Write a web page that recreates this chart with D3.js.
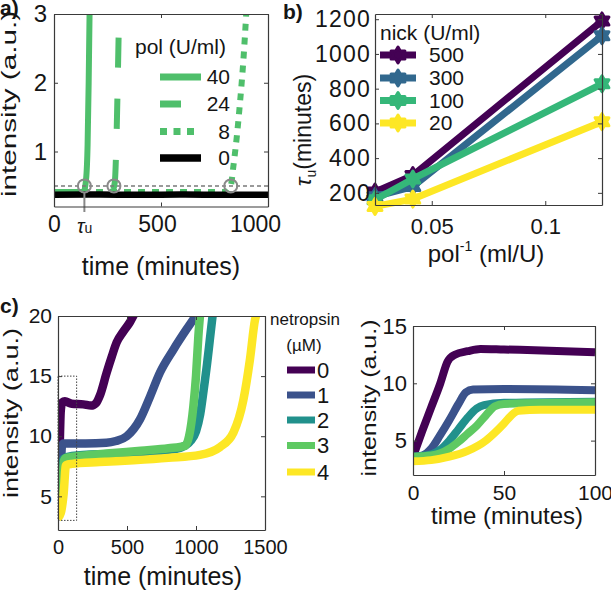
<!DOCTYPE html>
<html>
<head>
<meta charset="utf-8">
<script src="https://cdn.jsdelivr.net/npm/d3@7"></script>
<style>
body { margin: 0; background: #fff; }
text { font-family: "Liberation Sans", Arial, Helvetica, sans-serif; fill: #151515; }
</style>
</head>
<body>
<svg id="fig" width="611" height="596"></svg>
<script>
// ---------- data: panel a (intensity vs time, per polymerase) ----------
var polLabels = ["40", "24", "8", "0"];
var pol40 = [[0,0.41],[138,0.41],[150,0.6],[157,1.1],[162,2.0],[167,3.2]];
var pol24 = [[0,0.41],[270,0.41],[284,0.55],[292,1.2],[299,2.2],[305,3.2]];
var pol8  = [[0,0.41],[800,0.41],[826,0.5],[838,0.78],[854,1.21],[866,1.6],[877,2.0],[885,2.33],[893,2.72],[900,3.1]];
var pol0  = [[0,0.37],[200,0.375],[400,0.37],[600,0.375],[800,0.37],[1000,0.372]];
var tauTimes = [142, 280, 826];
var tauLevel = 0.5;
var aXTicks = [0, 500, 1000];
var aYTicks = [1, 2, 3];

// ---------- data: panel b (tau_u vs 1/pol, per nicking enzyme) ----------
var invPol = [1/40, 1/24, 1/8];
var nickLabels = ["500", "300", "100", "20"];
var tau500 = [205, 300, 1190];
var tau300 = [178, 236, 1105];
var tau100 = [160, 280, 828];
var tau20  = [122, 164, 610];
var bXTicks = [0.05, 0.1];
var bYTicks = [200, 400, 600, 800, 1000, 1200];

// ---------- data: panel c (netropsin series) ----------
var netLabels = ["0", "1", "2", "3", "4"];
var net0 = [[0,3.6],[10,8],[20,12.1],[30,12.8],[50,12.9],[100,12.7],[184,12.65],[240,12.55],[275,12.75],[304,13.4],[353,15.3],[389,16.6],[425,17.8],[473,18.7],[522,19.5],[550,20.1]];
var net1 = [[0,3.6],[15,5.5],[29,9.2],[40,9.4],[200,9.4],[350,9.45],[420,9.6],[498,10.0],[594,11.4],[667,13.3],[739,15.3],[836,17.2],[932,18.9],[1004,20.1]];
var net2 = [[0,3.6],[20,5.0],[39,8.1],[100,8.35],[400,8.55],[800,8.85],[900,9.1],[960,9.6],[1000,10.4],[1030,11.8],[1055,13.8],[1080,16.0],[1100,18.0],[1122,20.2]];
var net3 = [[0,3.6],[25,5.1],[45,8.0],[60,8.2],[200,8.4],[400,8.6],[600,8.8],[800,9.0],[921,9.2],[950,10.0],[981,12.5],[1000,15.0],[1017,18.3],[1030,20.2]];
var net4 = [[0,3.2],[20,3.6],[40,5.1],[58,7.6],[100,7.7],[300,7.85],[546,8.0],[800,8.2],[1029,8.45],[1174,9.1],[1271,10.3],[1343,13.0],[1391,16.4],[1428,19.7],[1440,20.2]];
var cXTicks = [0, 500, 1000, 1500];
var cYTicks = [5, 10, 15, 20];

// inset: first 100 minutes
var ins0 = [[0,3.6],[5,5.8],[10,7.9],[15,10.0],[19,11.9],[23,12.5],[30,12.8],[37,13.0],[50,12.95],[75,12.85],[100,12.7]];
var ins1 = [[0,3.6],[5,3.7],[10,4.3],[15,5.5],[20,6.8],[25,8.2],[29,9.2],[33,9.45],[50,9.5],[100,9.4]];
var ins2 = [[0,3.6],[10,3.8],[15,4.2],[20,5.0],[25,6.0],[30,7.0],[35,7.8],[39,8.1],[50,8.3],[100,8.4]];
var ins3 = [[0,3.6],[10,3.7],[15,3.9],[20,4.3],[25,4.9],[30,5.6],[35,6.3],[40,7.2],[45,8.0],[50,8.2],[100,8.35]];
var ins4 = [[0,3.2],[10,3.3],[20,3.6],[30,4.1],[40,5.0],[45,5.7],[50,6.5],[54,7.2],[58,7.6],[70,7.7],[100,7.7]];
var insXTicks = [0, 50, 100];
var insYTicks = [5, 10, 15];

var green = "#4fbf6b";
var viridis4 = ["#440154", "#31688e", "#35b779", "#fde725"];
var viridis5 = ["#440154", "#3b528b", "#21918c", "#5ec962", "#fde725"];

var svg = d3.select("#fig");
var clipN = 0;

function clipTo(x, y) {
	var id = "clip" + (clipN++);
	svg.append("clipPath").attr("id", id).append("rect")
		.attr("x", x.range()[0]).attr("y", y.range()[1])
		.attr("width", x.range()[1] - x.range()[0])
		.attr("height", y.range()[0] - y.range()[1]);
	return svg.append("g").attr("clip-path", "url(#" + id + ")");
}

function axes(x, y, xt, yt, o) {
	var g = svg.append("g");
	var y0 = y.range()[0], y1 = y.range()[1], x0 = x.range()[0], x1 = x.range()[1];
	var style = function(sel, fs) {
		sel.attr("font-family", null).attr("font-size", fs);
		sel.select(".domain").attr("stroke", "#3a3a3a").attr("stroke-width", 1.2);
		sel.selectAll(".tick line").attr("stroke", "#3a3a3a").attr("stroke-width", 1);
		sel.selectAll(".tick text").attr("fill", "#151515");
	};
	g.append("g").attr("class", "xb").attr("transform", "translate(0," + y0 + ")")
		.call(d3.axisBottom(x).tickValues(xt).tickSize(-4).tickSizeOuter(0).tickPadding(o.xPad).tickFormat(d3.format("")))
		.call(style, o.xFs);
	g.append("g").attr("transform", "translate(0," + y1 + ")")
		.call(d3.axisTop(x).tickValues(xt).tickSize(-4).tickSizeOuter(0).tickFormat(""))
		.call(style, o.xFs);
	g.append("g").attr("class", "yl").attr("transform", "translate(" + x0 + ",0)")
		.call(d3.axisLeft(y).tickValues(yt).tickSize(-4).tickSizeOuter(0).tickPadding(o.yPad).tickFormat(d3.format("")))
		.call(style, o.yFs);
	g.append("g").attr("transform", "translate(" + x1 + ",0)")
		.call(d3.axisRight(y).tickValues(yt).tickSize(-4).tickSizeOuter(0).tickFormat(""))
		.call(style, o.yFs);
	return g;
}

// rotated label: bx = x of the text baseline, cy = centre along the text
function yLabel(bx, cy, fs, txt, len) {
	var t = svg.append("text")
		.attr("transform", "translate(" + bx + "," + cy + ") rotate(-90)")
		.attr("text-anchor", "middle")
		.attr("font-size", fs).text(txt);
	if (len) t.attr("textLength", len).attr("lengthAdjust", "spacingAndGlyphs");
	return t;
}

function xLabel(cx, by, fs, txt) {
	return svg.append("text").attr("x", cx).attr("y", by)
		.attr("text-anchor", "middle").attr("font-size", fs).text(txt);
}

function panelTag(x, y, t) {
	svg.append("text").attr("x", x).attr("y", y).attr("font-size", 21)
		.attr("font-weight", "bold").text(t);
}

// ================= panel a =================
var ax = d3.scaleLinear().domain([0, 1000]).range([54, 268]);
var ay = d3.scaleLinear().domain([0.2, 3]).range([206.5, 14]);
var aLine = d3.line().x(function(d){ return ax(d[0]); }).y(function(d){ return ay(d[1]); }).curve(d3.curveMonotoneX);
var ag = clipTo(ax, ay);

var aSeries = [
	{ d: pol40, dash: null },
	{ d: pol24, dash: "30,31" },
	{ d: pol8, dash: "7,7" }
];
aSeries.forEach(function(s) {
	ag.append("path").attr("d", aLine(s.d)).attr("fill", "none")
		.attr("stroke", green).attr("stroke-width", 6)
		.attr("stroke-dasharray", s.dash);
});
ag.append("path").attr("d", aLine(pol0)).attr("fill", "none")
	.attr("stroke", "#000").attr("stroke-width", 6.5);

// threshold + tau markers
ag.append("line").attr("x1", ax(0)).attr("x2", ax(1000))
	.attr("y1", ay(tauLevel)).attr("y2", ay(tauLevel))
	.attr("stroke", "#7a7a7a").attr("stroke-width", 1.5).attr("stroke-dasharray", "4,3");
svg.append("line").attr("x1", ax(tauTimes[0])).attr("x2", ax(tauTimes[0]))
	.attr("y1", ay(tauLevel) + 7).attr("y2", 212)
	.attr("stroke", "#888").attr("stroke-width", 2);
tauTimes.forEach(function(t) {
	svg.append("circle").attr("cx", ax(t)).attr("cy", ay(tauLevel)).attr("r", 6.5)
		.attr("fill", "none").attr("stroke", "#8a8a8a").attr("stroke-width", 2);
});
var tauTxt = svg.append("text").attr("x", 77).attr("y", 233).attr("font-size", 20);
tauTxt.append("tspan").attr("font-style", "italic").text("τ");
tauTxt.append("tspan").attr("font-size", 14).text("u");

var aAx = axes(ax, ay, aXTicks, aYTicks, { xPad: 9, yPad: 7, xFs: 23, yFs: 24 });
aAx.select(".xb").selectAll(".tick text").filter(function(d){ return d === 1000; }).attr("dx", -13);
aAx.select(".xb").selectAll(".tick text").filter(function(d){ return d === 500; }).attr("dx", -4);
yLabel(16, 104, 21, "intensity (a.u.)", 186);
xLabel(161, 275, 25, "time (minutes)");
panelTag(0, 15, "a)");

// legend a
svg.append("text").attr("x", 135).attr("y", 54).attr("font-size", 21).text("pol (U/ml)");
var aLeg = [
	{ c: green, dash: null, x2: 201, w: 7 },
	{ c: green, dash: "21,25", x2: 201, w: 7 },
	{ c: green, dash: "7,6.5", x2: 194, w: 7 },
	{ c: "#000", dash: null, x2: 201, w: 7.5 }
];
var aLegY = [77, 104, 131.5, 158];
aLeg.forEach(function(l, i) {
	svg.append("line").attr("x1", 160).attr("x2", l.x2).attr("y1", aLegY[i]).attr("y2", aLegY[i])
		.attr("stroke", l.c).attr("stroke-width", l.w).attr("stroke-dasharray", l.dash);
	svg.append("text").attr("x", 230).attr("y", aLegY[i]).attr("dy", "0.35em")
		.attr("text-anchor", "end").attr("font-size", 21).text(polLabels[i]);
});

// ================= panel b =================
var bx = d3.scaleLinear().domain([0.025, 0.125]).range([375, 602]);
var by = d3.scaleLinear().domain([130, 1230]).range([205, 14]);
var bLine = d3.line().x(function(d){ return bx(d[0]); }).y(function(d){ return by(d[1]); });

function hexagram(R) {
	var r = R / Math.sqrt(3), pts = [];
	for (var i = 0; i < 12; i++) {
		var a = -Math.PI / 2 + i * Math.PI / 6, rr = i % 2 ? r : R;
		pts.push([(rr * Math.cos(a)).toFixed(2), (rr * Math.sin(a)).toFixed(2)]);
	}
	return "M" + pts.join("L") + "Z";
}
var star = hexagram(8);

var bg = svg.append("g");
[tau500, tau300, tau100, tau20].forEach(function(vals, i) {
	var pts = invPol.map(function(v, k){ return [v, vals[k]]; });
	var layer = bg.append("g");
	layer.append("path").attr("d", bLine(pts)).attr("fill", "none")
		.attr("stroke", viridis4[i]).attr("stroke-width", 7).attr("stroke-linejoin", "round");
	pts.forEach(function(p) {
		layer.append("path").attr("d", star)
			.attr("transform", "translate(" + bx(p[0]) + "," + by(p[1]) + ")")
			.attr("fill", viridis4[i]).attr("stroke", viridis4[i]).attr("stroke-width", 3)
			.attr("stroke-linejoin", "round");
	});
});

var bAx = axes(bx, by, bXTicks, bYTicks, { xPad: 13, yPad: 4, xFs: 22, yFs: 23 });
bAx.select(".yl").selectAll(".tick text").attr("letter-spacing", 1.2);

var bxl = svg.append("text").attr("x", 486).attr("y", 262).attr("text-anchor", "middle").attr("font-size", 24);
bxl.append("tspan").text("pol");
bxl.append("tspan").attr("font-size", 14).attr("dy", -11).text("-1");
bxl.append("tspan").attr("dy", 11).text(" (ml/U)");

var byl = svg.append("text").attr("transform", "translate(311,130) rotate(-90)")
	.attr("text-anchor", "middle").attr("font-size", 23);
byl.append("tspan").attr("font-style", "italic").text("τ");
byl.append("tspan").attr("font-size", 14).attr("dy", 5).text("u");
byl.append("tspan").attr("dy", -5).text("(minutes)");
panelTag(283, 19, "b)");

// legend b
svg.append("text").attr("x", 380).attr("y", 40).attr("font-size", 21).text("nick (U/ml)");
var bLegY = [55, 78, 100.5, 123];
nickLabels.forEach(function(n, i) {
	svg.append("line").attr("x1", 380).attr("x2", 416).attr("y1", bLegY[i]).attr("y2", bLegY[i])
		.attr("stroke", viridis4[i]).attr("stroke-width", 7);
	svg.append("path").attr("d", star).attr("transform", "translate(398," + bLegY[i] + ")")
		.attr("fill", viridis4[i]).attr("stroke", viridis4[i]).attr("stroke-width", 3)
		.attr("stroke-linejoin", "round");
	svg.append("text").attr("x", 429).attr("y", bLegY[i]).attr("dy", "0.35em")
		.attr("font-size", 21).text(n);
});

// ================= panel c (full) =================
var cx = d3.scaleLinear().domain([0, 1500]).range([58, 265]);
var cy = d3.scaleLinear().domain([2.2, 20]).range([530, 316]);
var cLine = d3.line().x(function(d){ return cx(d[0]); }).y(function(d){ return cy(d[1]); }).curve(d3.curveMonotoneX);
var cg = clipTo(cx, cy);
[net0, net1, net2, net3, net4].forEach(function(s, i) {
	cg.append("path").attr("d", cLine(s)).attr("fill", "none")
		.attr("stroke", viridis5[i]).attr("stroke-width", 8.5).attr("stroke-linejoin", "round");
});
// zoom box marking the inset range
svg.append("rect").attr("x", cx(0)).attr("y", cy(15))
	.attr("width", cx(135) - cx(0)).attr("height", cy(3) - cy(15))
	.attr("fill", "none").attr("stroke", "#444").attr("stroke-width", 1).attr("stroke-dasharray", "1.5,1.5");
axes(cx, cy, cXTicks, cYTicks, { xPad: 10, yPad: 6, xFs: 20, yFs: 21 });
yLabel(17.5, 413, 20, "intensity (a.u.)", 170);
xLabel(163, 585, 25, "time (minutes)");
panelTag(0, 313, "c)");

// legend c
svg.append("text").attr("x", 270).attr("y", 325).attr("font-size", 17).text("netropsin");
svg.append("text").attr("x", 304).attr("y", 351).attr("text-anchor", "middle").attr("font-size", 17).text("(µM)");
var cLegY = [370, 395, 420, 445.5, 472];
netLabels.forEach(function(n, i) {
	svg.append("line").attr("x1", 287).attr("x2", 315).attr("y1", cLegY[i]).attr("y2", cLegY[i])
		.attr("stroke", viridis5[i]).attr("stroke-width", 7);
	svg.append("text").attr("x", 317).attr("y", cLegY[i]).attr("dy", "0.36em")
		.attr("font-size", 22).text(n);
});

// ================= panel c (inset) =================
var ix = d3.scaleLinear().domain([0, 100]).range([413, 595]);
var iy = d3.scaleLinear().domain([2, 15]).range([475, 326]);
var iLine = d3.line().x(function(d){ return ix(d[0]); }).y(function(d){ return iy(d[1]); }).curve(d3.curveMonotoneX);
var ig = clipTo(ix, iy);
[ins0, ins1, ins2, ins3, ins4].forEach(function(s, i) {
	ig.append("path").attr("d", iLine(s)).attr("fill", "none")
		.attr("stroke", viridis5[i]).attr("stroke-width", 8).attr("stroke-linejoin", "round");
});
axes(ix, iy, insXTicks, insYTicks, { xPad: 10, yPad: 6, xFs: 21, yFs: 22 });
yLabel(376, 398, 21, "intensity (a.u.)", 157);
xLabel(507, 524, 24, "time (minutes)");
</script>
</body>
</html>
